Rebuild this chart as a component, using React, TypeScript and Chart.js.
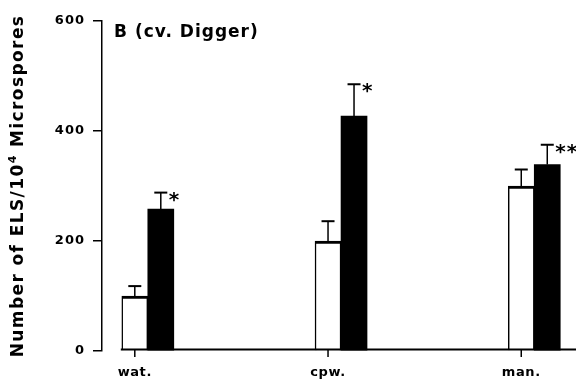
import React, { useEffect, useRef } from "react";
import { Chart, registerables } from "chart.js";

Chart.register(...registerables);

const categories = ["wat.", "cpw.", "man."];
const whiteValues = [100, 200, 300];
const whiteErrors = [18, 36, 30];
const blackValues = [258, 427, 339];
const blackErrors = [30, 58, 36];
const sigLabels = ["*", "*", "**"];
const yTicks = [0, 200, 400, 600];
const panelTitle = "B (cv. Digger)";
const yTitleParts = ["Number of ELS/10", "4", " Microspores"];

const FONT = "'DejaVu Sans', 'Liberation Sans', Arial, sans-serif";

const spacing = {
  id: "spacing",
  beforeDraw(chart: any) {
    (chart.ctx as any).letterSpacing = "1px";
  },
};

const overlay = {
  id: "overlay",
  afterDatasetsDraw(chart: any) {
    const ctx = chart.ctx;
    const y = chart.scales.y;
    const area = chart.chartArea;
    const m0 = chart.getDatasetMeta(0);
    const m1 = chart.getDatasetMeta(1);
    const zero = y.getPixelForValue(0);
    ctx.save();
    ctx.strokeStyle = "#000";
    ctx.fillStyle = "#000";
    // x axis line
    const first = m0.data[0];
    const left = first.x - first.width / 2 - 1;
    ctx.lineWidth = 2;
    ctx.beginPath();
    ctx.moveTo(left, zero - 1.5);
    ctx.lineTo(area.right, zero - 1.5);
    ctx.stroke();
    // category ticks and labels
    ctx.font = `bold 13px ${FONT}`;
    (ctx as any).letterSpacing = "0.6px";
    ctx.textAlign = "center";
    ctx.textBaseline = "middle";
    categories.forEach((c, i) => {
      const el = m0.data[i];
      ctx.lineWidth = 1.5;
      ctx.beginPath();
      ctx.moveTo(el.x, zero - 1);
      ctx.lineTo(el.x, zero + 6);
      ctx.stroke();
      ctx.fillText(c, el.x, zero + 22);
    });
    // error bars
    const drawErr = (meta: any, vals: number[], errs: number[]) => {
      vals.forEach((v, i) => {
        const el = meta.data[i];
        const top = y.getPixelForValue(v + errs[i]);
        ctx.lineWidth = 1.5;
        ctx.beginPath();
        ctx.moveTo(el.x, el.y);
        ctx.lineTo(el.x, top);
        ctx.stroke();
        ctx.lineWidth = 2;
        ctx.beginPath();
        ctx.moveTo(el.x - 6.5, top);
        ctx.lineTo(el.x + 6.5, top);
        ctx.stroke();
      });
    };
    drawErr(m0, whiteValues, whiteErrors);
    drawErr(m1, blackValues, blackErrors);
    // significance marks
    ctx.font = `bold 20px ${FONT}`;
    (ctx as any).letterSpacing = "1px";
    ctx.textAlign = "left";
    ctx.textBaseline = "top";
    sigLabels.forEach((s, i) => {
      const el = m1.data[i];
      const top = y.getPixelForValue(blackValues[i] + blackErrors[i]);
      ctx.fillText(s, el.x + 8, top - 2);
    });
    // panel title
    ctx.font = `bold 17px ${FONT}`;
    (ctx as any).letterSpacing = "1px";
    ctx.textAlign = "left";
    ctx.textBaseline = "middle";
    ctx.fillText(panelTitle, area.left + 12, area.top + 12);
    // y axis title with superscript
    ctx.save();
    ctx.translate(23, (area.top + area.bottom) / 2);
    ctx.rotate(-Math.PI / 2);
    ctx.textAlign = "left";
    ctx.textBaseline = "alphabetic";
    const big = `bold 17px ${FONT}`;
    const small = `bold 11px ${FONT}`;
    (ctx as any).letterSpacing = "1.4px";
    ctx.font = big;
    const w1 = ctx.measureText(yTitleParts[0]).width;
    const w3 = ctx.measureText(yTitleParts[2]).width;
    ctx.font = small;
    const w2 = ctx.measureText(yTitleParts[1]).width;
    let x = -(w1 + w2 + w3) / 2;
    ctx.font = big;
    ctx.fillText(yTitleParts[0], x, 0);
    x += w1;
    ctx.font = small;
    ctx.fillText(yTitleParts[1], x, -7);
    x += w2;
    ctx.font = big;
    ctx.fillText(yTitleParts[2], x, 0);
    ctx.restore();
    ctx.restore();
  },
};

export default function App() {
  const ref = useRef<HTMLCanvasElement>(null);
  useEffect(() => {
    document.body.style.margin = "0";
    const chart = new Chart(ref.current!, {
      type: "bar",
      data: {
        datasets: [
          {
            label: "white",
            data: whiteValues.map((v, i) => ({ x: i, y: v })),
            backgroundColor: "#fff",
            borderColor: "#000",
            borderWidth: { top: 3, left: 1.5, right: 1.5, bottom: 0 },
            borderSkipped: false,
            barThickness: 26,
          },
          {
            label: "black",
            data: blackValues.map((v, i) => ({ x: i, y: v })),
            backgroundColor: "#000",
            borderColor: "#000",
            borderWidth: 0,
            barThickness: 26,
          },
        ] as any,
      },
      options: {
        animation: false,
        responsive: false,
        maintainAspectRatio: false,
        layout: { padding: { top: 21, bottom: 31, left: 0, right: 0 } },
        plugins: { legend: { display: false }, tooltip: { enabled: false } },
        scales: {
          x: {
            type: "linear",
            display: false,
            offset: false,
            min: -0.237,
            max: 2.216,
          },
          y: {
            min: 0,
            max: 600,
            afterBuildTicks: (s: any) => {
              s.ticks = yTicks.map((v) => ({ value: v }));
            },
            afterFit: (s: any) => {
              s.width = 102;
            },
            ticks: {
              color: "#000",
              font: { family: FONT, size: 13, weight: "bold" },
              padding: 8,
            },
            grid: {
              drawOnChartArea: false,
              color: "#000",
              lineWidth: 1.5,
              tickLength: 9,
            },
            border: { color: "#000", width: 1.5 },
          },
        },
      } as any,
      plugins: [spacing, overlay],
    });
    return () => chart.destroy();
  }, []);
  return <canvas ref={ref} width={576} height={382} style={{ display: "block" }} />;
}
